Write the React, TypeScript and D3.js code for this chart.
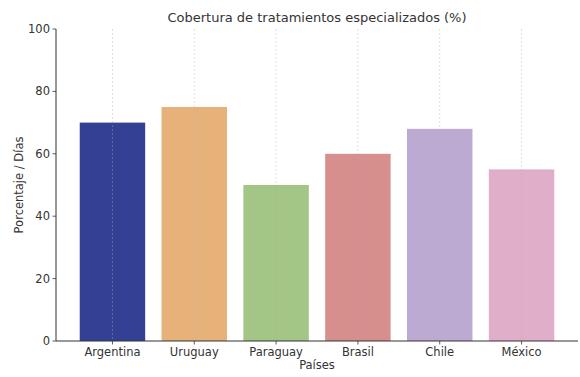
import React from "react";
import * as d3 from "d3";

const countries = ["Argentina", "Uruguay", "Paraguay", "Brasil", "Chile", "México"];
const values = [70, 75, 50, 60, 68, 55];
const colors = ["#334195", "#e6b27a", "#a3c586", "#d68f8c", "#bcaad2", "#e1aec9"];
const yTicks = [0, 20, 40, 60, 80, 100];

const W = 580, H = 377;
const left = 56, right = 578, top = 29, bottom = 341;
const font = "DejaVu Sans, sans-serif";

export default function App() {
  const x = d3.scaleBand<string>().domain(countries).range([left, right]).paddingInner(0.2).paddingOuter(0.29);
  const y = d3.scaleLinear().domain([0, 100]).range([bottom, top]);
  return (
    <svg width={W} height={H} style={{ position: "absolute", left: 0, top: 0, background: "#fff" }}>
      <text x={(left + right) / 2} y={22} textAnchor="middle" fontFamily={font} fontSize={13} fill="#333">
        Cobertura de tratamientos especializados (%)
      </text>
      {countries.map((c, i) => (
        <rect key={c} x={x(c)} y={y(values[i])} width={x.bandwidth()} height={y(0) - y(values[i])} fill={colors[i]} />
      ))}
      {countries.map((c) => {
        const cx = (x(c) as number) + x.bandwidth() / 2;
        return (
          <line key={"g" + c} x1={cx} x2={cx} y1={top} y2={bottom} stroke="#b0b0b0" strokeOpacity={0.5} strokeWidth={0.8} strokeDasharray="2,2" />
        );
      })}
      <line x1={left} x2={left} y1={top} y2={bottom} stroke="#333" strokeWidth={1} />
      <line x1={left} x2={right} y1={bottom} y2={bottom} stroke="#333" strokeWidth={1} />
      {yTicks.map((t) => (
        <g key={t}>
          <line x1={left - 3.5} x2={left} y1={y(t)} y2={y(t)} stroke="#333" strokeWidth={0.8} />
          <text x={left - 6} y={y(t)} dy="0.35em" textAnchor="end" fontFamily={font} fontSize={11.5} fill="#333">{t}</text>
        </g>
      ))}
      {countries.map((c) => {
        const cx = (x(c) as number) + x.bandwidth() / 2;
        return (
          <g key={"t" + c}>
            <line x1={cx} x2={cx} y1={bottom} y2={bottom + 3.5} stroke="#333" strokeWidth={0.8} />
            <text x={cx} y={bottom + 15} textAnchor="middle" fontFamily={font} fontSize={11.5} fill="#333">{c}</text>
          </g>
        );
      })}
      <text x={(left + right) / 2} y={369} textAnchor="middle" fontFamily={font} fontSize={11.5} fill="#333">Países</text>
      <text transform={`translate(23,${(top + bottom) / 2}) rotate(-90)`} textAnchor="middle" fontFamily={font} fontSize={11.5} fill="#333">Porcentaje / Días</text>
    </svg>
  );
}
